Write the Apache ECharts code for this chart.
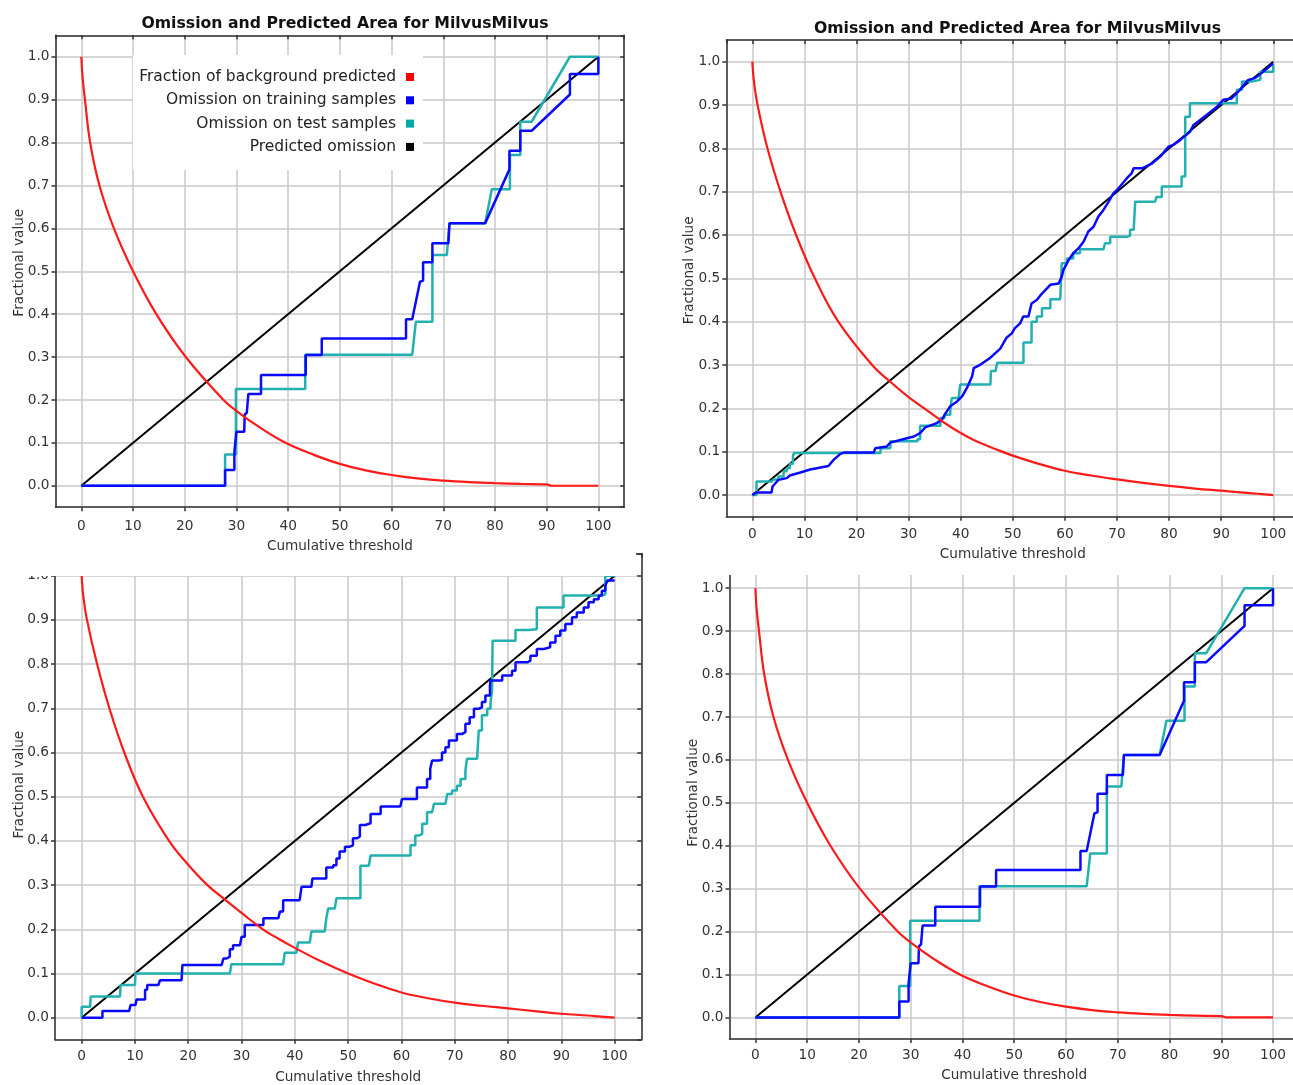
<!DOCTYPE html>
<html><head><meta charset="utf-8">
<script src="https://cdn.jsdelivr.net/npm/echarts@6/dist/echarts.min.js"></script>
<style>
html,body{margin:0;padding:0;background:#fff;width:1293px;height:1085px;overflow:hidden;position:relative}
.p{position:absolute;background:#fff;overflow:hidden}
</style></head><body>
<div id="c3" class="p" style="left:0;top:530px;width:650px;height:555px;z-index:1"></div>
<div id="c4" class="p" style="left:650px;top:530px;width:643px;height:555px;z-index:1"></div>
<div id="c1" class="p" style="left:0;top:0;width:636px;height:576px;z-index:2"></div>
<div id="c2" class="p" style="left:650px;top:0;width:643px;height:575px;z-index:2"></div>
<script>
// ---------- tick labels ----------
const xTickLabels = ['0','10','20','30','40','50','60','70','80','90','100'];
const yTickLabels = ['0.0','0.1','0.2','0.3','0.4','0.5','0.6','0.7','0.8','0.9','1.0'];
const chartTitle = 'Omission and Predicted Area for MilvusMilvus';
const xName = 'Cumulative threshold';
const yName = 'Fractional value';
const seriesNames = ['Fraction of background predicted','Omission on training samples','Omission on test samples','Predicted omission'];

// ---------- shared ----------
const predictedOmission = [[0,0],[100,1]];

// ---------- run A (top-left and bottom-right panels) ----------
const bgFractionA = [[0,1],[0.25,0.95],[0.7,0.9],[1.7,0.8],[3.5,0.7],[6.3,0.6],[10,0.5],[14.5,0.4],[20.2,0.3],[27.5,0.2],[30.5,0.17],[34,0.14],[39.5,0.1],[45,0.072],[50,0.051],[55,0.036],[60,0.025],[65,0.017],[70,0.012],[75,0.0085],[80,0.006],[85,0.0042],[90,0.003],[91,0],[100,0]];
const trainOmissionA = [[0,0],[27.8,0],[27.8,0.037],[29.6,0.037],[29.6,0.079],[29.9,0.079],[30.0,0.126],[31.5,0.126],[31.6,0.166],[32.0,0.17],[32.3,0.214],[34.75,0.214],[34.75,0.258],[43.4,0.258],[43.4,0.305],[46.5,0.305],[46.5,0.3435],[62.8,0.3435],[62.8,0.388],[64.0,0.388],[65.5,0.4755],[66.1,0.478],[66.1,0.521],[67.9,0.521],[67.9,0.565],[71.0,0.565],[71.2,0.6116],[78.1,0.6116],[82.8,0.7375],[82.8,0.781],[84.9,0.781],[84.9,0.8275],[87.1,0.8275],[94.5,0.912],[94.5,0.96],[100,0.96],[100,1.0]];
const testOmissionA = [[0,0],[27.8,0],[27.8,0.073],[29.9,0.073],[29.9,0.2254],[43.3,0.2254],[43.3,0.3054],[64.0,0.3054],[64.7,0.382],[67.9,0.382],[67.9,0.538],[70.7,0.538],[71.2,0.6116],[78.1,0.6116],[79.4,0.691],[82.9,0.691],[82.9,0.771],[84.9,0.771],[84.9,0.8485],[87.1,0.8485],[94.5,1.0],[100,1.0]];

// ---------- run B (top-right panel) ----------
const bgFractionB = [[0,1],[0.3,0.955],[1.0,0.9],[2.9,0.8],[5.4,0.7],[8.4,0.6],[12.0,0.5],[16.5,0.4],[23,0.3],[26.8,0.258],[30,0.226],[33,0.2],[36.7,0.168],[40,0.143],[42.5,0.127],[47.3,0.103],[50,0.091],[55,0.072],[60,0.056],[65,0.045],[70,0.036],[75,0.028],[80,0.021],[85,0.015],[90,0.01],[95,0.005],[97,0.003],[100,0]];
const trainOmissionB = [[0,0],[0.8,0.006],[3.7,0.006],[3.85,0.019],[4.55,0.029],[5.0,0.035],[6.6,0.039],[7.2,0.045],[9.2,0.052],[11.1,0.059],[14.6,0.067],[15.6,0.081],[16.9,0.095],[17.5,0.098],[23.3,0.098],[23.6,0.108],[25.8,0.112],[26.5,0.121],[28.4,0.127],[31.0,0.135],[32.2,0.143],[33.2,0.156],[35.4,0.166],[36.4,0.174],[37.1,0.189],[38.0,0.205],[39.3,0.216],[40.3,0.228],[41.2,0.247],[42.2,0.274],[42.5,0.293],[43.8,0.301],[45.7,0.317],[47.6,0.338],[48.8,0.363],[49.8,0.373],[50.4,0.385],[51.4,0.396],[52.0,0.412],[53.0,0.412],[53.6,0.442],[54.6,0.45],[55.6,0.465],[57.2,0.485],[58.8,0.488],[59.4,0.504],[59.7,0.519],[60.7,0.542],[61.6,0.558],[62.6,0.569],[63.6,0.585],[64.5,0.608],[65.5,0.619],[66.4,0.642],[67.4,0.658],[68.4,0.677],[69.3,0.696],[70.0,0.704],[71.9,0.731],[72.8,0.742],[73.2,0.754],[74.8,0.754],[76.7,0.765],[78.3,0.781],[79.9,0.804],[80.8,0.808],[82.1,0.819],[84.0,0.838],[84.7,0.854],[85.6,0.862],[87.2,0.877],[89.2,0.896],[90.4,0.912],[92.0,0.915],[93.6,0.935],[95.2,0.958],[96.5,0.962],[98.1,0.977],[100,0.996]];
const testOmissionB = [[0,0],[0.8,0.0],[0.8,0.031],[3.7,0.031],[4.0,0.036],[5.0,0.043],[6.0,0.055],[6.6,0.062],[7.2,0.072],[7.8,0.09],[8.0,0.097],[24.2,0.097],[24.6,0.108],[26.0,0.108],[26.5,0.124],[31.0,0.124],[31.7,0.129],[32.2,0.129],[32.2,0.16],[35.4,0.16],[36.1,0.178],[36.9,0.185],[38.0,0.197],[38.3,0.224],[39.6,0.224],[39.9,0.255],[45.7,0.259],[45.8,0.286],[46.7,0.29],[47.0,0.305],[51.6,0.305],[52.05,0.352],[53.0,0.352],[53.6,0.40],[54.6,0.412],[55.6,0.431],[57.2,0.452],[59.1,0.452],[59.4,0.535],[60.4,0.546],[61.6,0.558],[62.9,0.567],[67.4,0.567],[67.7,0.581],[68.7,0.596],[71.9,0.598],[72.5,0.612],[73.2,0.612],[73.5,0.677],[77.3,0.677],[77.6,0.688],[78.6,0.712],[81.8,0.712],[82.4,0.735],[83.1,0.873],[84.0,0.904],[91.7,0.904],[93.0,0.935],[94.0,0.954],[95.9,0.958],[97.5,0.977],[100,0.992]];

// ---------- run C (bottom-left panel) ----------
const bgFractionC = [[0,1],[0.3,0.955],[1.0,0.9],[2.9,0.8],[5.2,0.7],[8.0,0.6],[11.5,0.5],[16.4,0.4],[19.7,0.35],[23.6,0.3],[27,0.266],[30,0.237],[34,0.2],[37,0.178],[40,0.158],[45,0.127],[50,0.1],[55,0.077],[60,0.057],[65,0.044],[70,0.034],[75,0.027],[80,0.021],[85,0.015],[90,0.009],[95,0.005],[97,0.003],[100,0]];
const trainOmissionC = [[0,0],[3.9,0],[3.9,0.015],[8.9,0.015],[9.2,0.029],[10.1,0.029],[10.3,0.041],[11.25,0.041],[11.9,0.063],[12.3,0.074],[14.4,0.074],[14.7,0.085],[18.75,0.085],[18.9,0.119],[26.25,0.119],[26.6,0.134],[27.2,0.138],[27.8,0.155],[28.4,0.164],[29.7,0.167],[30.0,0.183],[30.6,0.21],[32.8,0.21],[34.1,0.225],[36.9,0.225],[37.2,0.24],[37.8,0.266],[40.9,0.27],[41.25,0.296],[43.1,0.30],[43.3,0.315],[45.3,0.315],[45.9,0.34],[47.2,0.345],[47.8,0.36],[48.4,0.376],[49.4,0.387],[50.3,0.39],[50.9,0.406],[51.7,0.41],[52.2,0.436],[53.25,0.44],[54.2,0.461],[56.1,0.478],[59.8,0.478],[60.1,0.495],[62.3,0.495],[62.9,0.521],[64.8,0.54],[65.4,0.563],[65.75,0.582],[67,0.583],[67.6,0.60],[68.25,0.612],[68.9,0.627],[69.8,0.627],[70.4,0.642],[71.4,0.646],[72,0.665],[72.8,0.68],[73.6,0.699],[74.5,0.702],[75.1,0.714],[75.75,0.729],[76.6,0.751],[76.7,0.763],[77.9,0.763],[78.9,0.774],[80.1,0.774],[80.75,0.785],[81.4,0.804],[83.6,0.808],[84.2,0.819],[85.4,0.834],[86.7,0.838],[87.9,0.849],[88.9,0.864],[89.8,0.876],[90.75,0.891],[92,0.906],[92.9,0.917],[94.2,0.928],[95.1,0.94],[96.1,0.947],[97,0.955],[97.6,0.966],[98.25,0.977],[98.6,0.989],[100,0.99]];
const testOmissionC = [[0,0],[0,0.025],[1.6,0.025],[1.7,0.048],[7.2,0.048],[7.3,0.074],[10,0.074],[10.1,0.1],[27.8,0.1],[28.1,0.121],[37.8,0.121],[38.1,0.147],[40.3,0.147],[40.6,0.17],[42.8,0.17],[43.1,0.195],[45.6,0.195],[45.9,0.225],[46.25,0.247],[47.5,0.247],[47.8,0.27],[51.6,0.27],[52.3,0.344],[53.9,0.344],[54.2,0.367],[61.1,0.367],[61.7,0.39],[62.6,0.412],[63.25,0.416],[63.9,0.439],[64.8,0.465],[65.75,0.465],[66.1,0.484],[68.25,0.488],[68.6,0.506],[69.5,0.514],[70.4,0.525],[71.1,0.54],[72,0.559],[72.3,0.586],[74.2,0.586],[74.5,0.65],[75.1,0.684],[76.1,0.699],[76.7,0.71],[77.0,0.744],[77.1,0.853],[80.4,0.853],[81.4,0.877],[83.9,0.879],[85.4,0.928],[89.8,0.928],[90.4,0.955],[94.8,0.955],[97.6,0.958],[98.25,1.0],[100,1.0]];

// ---------- styling ----------
const FONT = "'DejaVu Sans', Verdana, sans-serif";
const COLORS = {bg:'#ff1a1a', train:'#0a0aff', test:'#22b0b0', pred:'#000000'};
const LEGEND_COLORS = {bg:'#ff0000', train:'#0000ff', test:'#00a8a8', pred:'#000000'};

function xFmt(v){ const i = Math.round(v/10); return (Math.abs(v-i*10)<1e-6 && i>=0 && i<xTickLabels.length) ? xTickLabels[i] : ''; }
function yFmt(v){ const i = Math.round(v*10); return (Math.abs(v-i/10)<1e-6 && i>=0 && i<yTickLabels.length) ? yTickLabels[i] : ''; }

function buildOption(p, bg, train, test, stepTrain, stepTest){
  const axisLine = {show:true, onZero:false, lineStyle:{color:'#333', width:1.5}};
  const tick = (inside)=>({show:true, inside:inside, length:4, lineStyle:{color:'#333', width:1.5}});
  const split = {show:true, lineStyle:{color:'#c8c8c8', width:1.5}};
  const nameStyle = {color:'#333', fontSize:13.6, fontFamily:FONT};
  const labelStyle = {color:'#333', fontSize:13.7, fontFamily:FONT};
  const xb = {type:'value', min:-5, max:105, splitNumber:11, gridIndex:0};
  const yb = {type:'value', min:-0.05, max:1.05, splitNumber:11, gridIndex:0};
  const opt = {
    animation:false,
    grid:[{left:p.left, top:p.top, width:p.width, height:p.height, containLabel:false, outerBoundsMode:'none', show:false}],
    xAxis:[
      Object.assign({}, xb, {position:'bottom', axisLine, axisTick:tick(false), splitLine:split,
        axisLabel:Object.assign({show:true, showMinLabel:false, showMaxLabel:false, margin:p.xLabelMargin, formatter:xFmt}, labelStyle),
        name:xName, nameLocation:'middle', nameGap:p.xNameGap, nameMoveOverlap:false, nameTextStyle:nameStyle}),
      Object.assign({}, xb, {position:'top', axisLine, axisTick:tick(true), splitLine:{show:false}, axisLabel:{show:false}})
    ],
    yAxis:[
      Object.assign({}, yb, {position:'left', axisLine, axisTick:tick(false), splitLine:split,
        axisLabel:Object.assign({show:true, showMinLabel:false, showMaxLabel:false, margin:6, formatter:yFmt}, labelStyle),
        name:yName, nameLocation:'middle', nameGap:p.yNameGap, nameMoveOverlap:false, nameTextStyle:Object.assign({padding:[0,0,0,p.yNameShift]}, nameStyle)}),
      Object.assign({}, yb, {position:'right', axisLine, axisTick:tick(true), splitLine:{show:false}, axisLabel:{show:false}})
    ],
    series:[
      {name:seriesNames[3], type:'line', data:predictedOmission, showSymbol:false, color:COLORS.pred, lineStyle:{color:COLORS.pred, width:2}, z:2, emphasis:{disabled:true}, silent:true},
      {name:seriesNames[2], type:'line', data:test, showSymbol:false, step:stepTest?'end':false, color:COLORS.test, lineStyle:{color:COLORS.test, width:2.5}, z:3, emphasis:{disabled:true}, silent:true},
      {name:seriesNames[1], type:'line', data:train, showSymbol:false, step:stepTrain?'end':false, color:COLORS.train, lineStyle:{color:COLORS.train, width:2.5}, z:4, emphasis:{disabled:true}, silent:true},
      {name:seriesNames[0], type:'line', data:bg, showSymbol:false, smooth:0.4, color:COLORS.bg, lineStyle:{color:COLORS.bg, width:2.2}, z:5, emphasis:{disabled:true}, silent:true}
    ]
  };
  if (p.title) {
    opt.title = {text:chartTitle, left:p.titleX, top:p.titleY, textAlign:'center',
      textStyle:{fontFamily:FONT, fontWeight:'bold', fontSize:15.7, color:'#111'}};
  }
  if (p.legend) {
    opt.graphic = [{type:'rect', z:1, silent:true, shape:{x:133, y:55, width:290, height:115}, style:{fill:'#ffffff'}}];
    opt.legend = {show:true, orient:'vertical', align:'right', right:p.legendRight, top:p.legendTop, padding:0,
      itemWidth:8, itemHeight:8, itemGap:7.3, icon:'rect', selectedMode:false,
      textStyle:{fontFamily:FONT, fontSize:15.5, color:'#222', lineHeight:16, padding:[0,5,0,0]},
      data:[
        {name:seriesNames[0], itemStyle:{color:LEGEND_COLORS.bg}},
        {name:seriesNames[1], itemStyle:{color:LEGEND_COLORS.train}},
        {name:seriesNames[2], itemStyle:{color:LEGEND_COLORS.test}},
        {name:seriesNames[3], itemStyle:{color:LEGEND_COLORS.pred}}
      ]};
  }
  return opt;
}

const panels = [
  {id:'c1', bg:bgFractionA, train:trainOmissionA, test:testOmissionA, stepTrain:false, stepTest:false,
   p:{left:55.5, top:35.3, width:568.7, height:471.9, xLabelMargin:12, xNameGap:32, yNameGap:29.5, yNameShift:17,
      title:true, titleX:340, titleY:11, legend:true, legendRight:222, legendTop:69}},
  {id:'c2', bg:bgFractionB, train:trainOmissionB, test:testOmissionB, stepTrain:false, stepTest:true,
   p:{left:76.3, top:40, width:573, height:476.7, xLabelMargin:10.5, xNameGap:30.5, yNameGap:30, yNameShift:16,
      title:true, titleX:362.5, titleY:16}},
  {id:'c3', bg:bgFractionC, train:trainOmissionC, test:testOmissionC, stepTrain:true, stepTest:true,
   p:{left:55, top:23.6, width:586.3, height:486.2, xLabelMargin:9.5, xNameGap:30.5, yNameGap:29, yNameShift:24}},
  {id:'c4', bg:bgFractionA, train:trainOmissionA, test:testOmissionA, stepTrain:false, stepTest:false,
   p:{left:79.5, top:36.7, width:569.4, height:472.2, xLabelMargin:9.4, xNameGap:29.3, yNameGap:29.5, yNameShift:20}}
];
panels.forEach(function(pn){
  const chart = echarts.init(document.getElementById(pn.id), null, {renderer:'canvas'});
  chart.setOption(buildOption(pn.p, pn.bg, pn.train, pn.test, pn.stepTrain, pn.stepTest));
});
</script>
</body></html>
